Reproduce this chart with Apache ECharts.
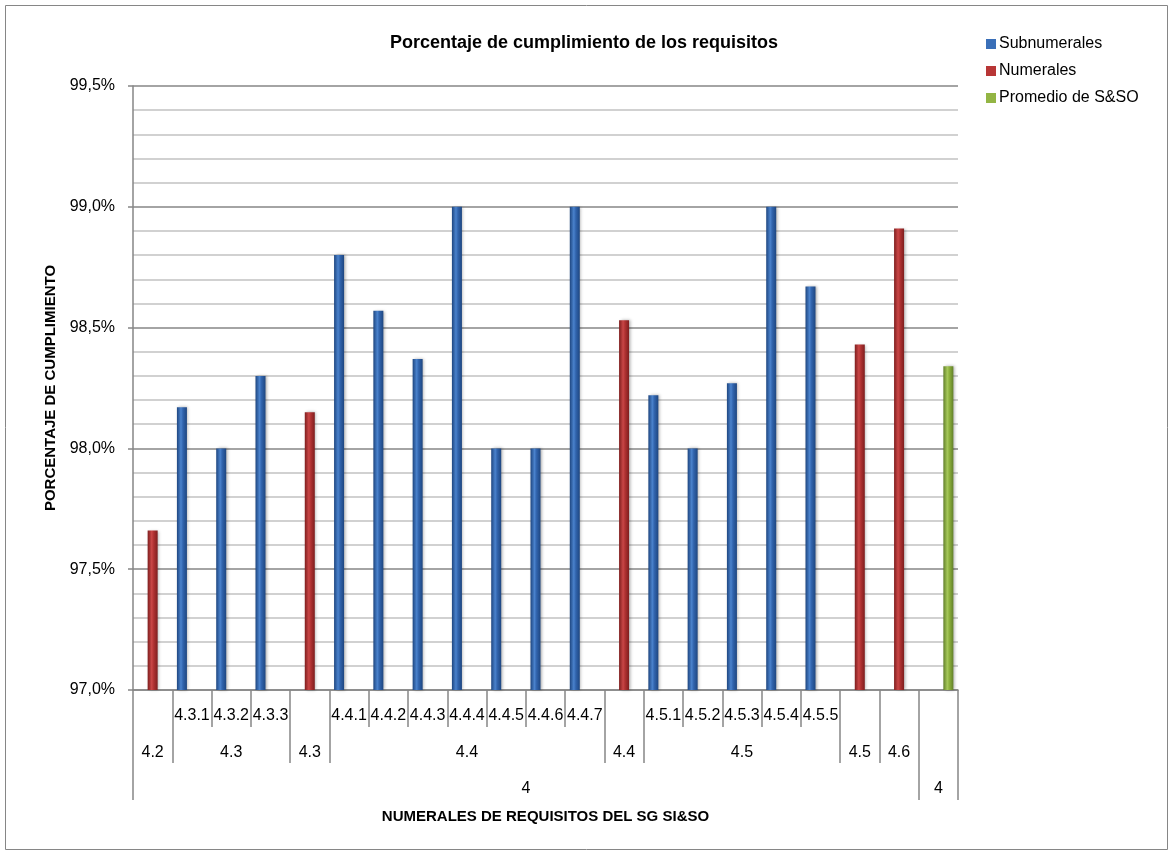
<!DOCTYPE html>
<html>
<head>
<meta charset="utf-8">
<script src="https://cdn.jsdelivr.net/npm/echarts@6/dist/echarts.min.js"></script>
<style>
  html, body { margin: 0; padding: 0; background: #fff; }
  #chart { width: 1174px; height: 855px; }
</style>
</head>
<body>
<div id="chart"></div>
<script>
// Requirement numbers, one entry per column
const categories = ['4.2', '4.3.1', '4.3.2', '4.3.3', '4.3', '4.4.1', '4.4.2', '4.4.3', '4.4.4', '4.4.5', '4.4.6', '4.4.7', '4.4', '4.5.1', '4.5.2', '4.5.3', '4.5.4', '4.5.5', '4.5', '4.6', '4'];

// Multi-level axis labels
const subLabels = ['', '4.3.1', '4.3.2', '4.3.3', '', '4.4.1', '4.4.2', '4.4.3', '4.4.4', '4.4.5', '4.4.6', '4.4.7', '', '4.5.1', '4.5.2', '4.5.3', '4.5.4', '4.5.5', '', '', ''];
const groupNames = ['4.2', '4.3', '4.3', '4.4', '4.4', '4.5', '4.5', '4.6', ''];
const groupSpans = [1, 3, 1, 7, 1, 5, 1, 1, 1];
const topNames = ['4', '4'];
const topSpans = [20, 1];

// Compliance percentages
const subnumerales = [null, 98.17, 98.00, 98.30, null, 98.80, 98.57, 98.37, 99.00, 98.00, 98.00, 99.00, null, 98.22, 98.00, 98.27, 99.00, 98.67, null, null, null];
const numerales = [97.66, null, null, null, 98.15, null, null, null, null, null, null, null, 98.53, null, null, null, null, null, 98.43, 98.91, null];
const promedio = [null, null, null, null, null, null, null, null, null, null, null, null, null, null, null, null, null, null, null, null, 98.34];

const seriesNames = ['Subnumerales', 'Numerales', 'Promedio de S&SO'];

// Y axis ticks
const yMin = 97.0, yMax = 99.5, yStep = 0.5;

const FONT = 'Liberation Sans';
const GRID_COLOR = '#868686';

// Half-column slots: slot 2*i is the left edge of column i, slot 2*i+1 its centre.
const slotCount = categories.length * 2 + 1;
function buildRow(names, spans) {
  const labels = new Array(slotCount).fill('');
  const edges = new Set();
  let start = 0;
  names.forEach((n, k) => {
    const end = start + spans[k];
    labels[start + end] = n;
    edges.add(2 * start);
    edges.add(2 * end);
    start = end;
  });
  return { labels, edges };
}
const row1 = buildRow(subLabels, subLabels.map(() => 1));
const row2 = buildRow(groupNames, groupSpans);
const row3 = buildRow(topNames, topSpans);
const slotIds = Array.from({ length: slotCount }, (_, i) => 's' + i);

function tableAxis(row, tickLen, labelMargin) {
  return {
    type: 'category',
    position: 'bottom',
    boundaryGap: false,
    data: slotIds,
    axisLine: { show: false },
    axisTick: {
      show: true,
      length: tickLen,
      interval: (idx) => row.edges.has(idx),
      lineStyle: { color: GRID_COLOR, width: 1.5 }
    },
    axisLabel: {
      show: true,
      interval: 0,
      margin: labelMargin,
      verticalAlign: 'middle',
      color: '#000',
      fontFamily: FONT,
      fontSize: 16,
      formatter: (v, idx) => row.labels[idx]
    },
    splitLine: { show: false }
  };
}

function barGradient(edge, mid, light) {
  return new echarts.graphic.LinearGradient(0, 0, 1, 0, [
    { offset: 0, color: edge },
    { offset: 0.4, color: light },
    { offset: 0.6, color: mid },
    { offset: 1, color: edge }
  ]);
}
const fills = [
  barGradient('#1e4680', '#3164ad', '#4a82cc'),
  barGradient('#7e1e1e', '#b03232', '#c94646'),
  barGradient('#62802a', '#8cb03c', '#a6c85a')
];
const legendColors = ['#3a6fb8', '#b83636', '#93b544'];

function barSeries(name, data, k) {
  return {
    name: name,
    type: 'bar',
    data: data,
    barWidth: 10,
    barGap: '0%',
    itemStyle: {
      color: fills[k],
      shadowColor: 'rgba(0,0,0,0.3)',
      shadowBlur: 3,
      shadowOffsetX: 1.5
    }
  };
}

const chart = echarts.init(document.getElementById('chart'), null, { renderer: 'canvas' });
chart.setOption({
  animation: false,
  backgroundColor: '#fff',
  textStyle: { fontFamily: FONT, color: '#000' },
  title: {
    text: 'Porcentaje de cumplimiento de los requisitos',
    left: 579,
    top: 29,
    textAlign: 'center',
    textStyle: { fontFamily: FONT, fontSize: 18, fontWeight: 'bold', color: '#000' }
  },
  legend: {
    orient: 'vertical',
    left: 986,
    top: 36,
    padding: 0,
    itemWidth: 10,
    itemHeight: 10,
    itemGap: 11,
    icon: 'rect',
    data: seriesNames.map((n, k) => ({ name: n, itemStyle: { color: legendColors[k], shadowBlur: 0 } })),
    textStyle: { fontFamily: FONT, fontSize: 16, color: '#000', lineHeight: 16, padding: [0, 0, 0, -2] }
  },
  graphic: [{
    type: 'rect',
    shape: { x: 5.5, y: 5.5, width: 1162, height: 844 },
    style: { fill: null, stroke: GRID_COLOR, lineWidth: 1 },
    silent: true,
    z: -1
  }],
  grid: { left: 133, right: 216, top: 86, bottom: 165 },
  xAxis: [
    {
      type: 'category',
      data: categories,
      position: 'bottom',
      axisLine: { show: true, lineStyle: { color: GRID_COLOR, width: 1.5 } },
      axisTick: { show: false },
      axisLabel: { show: false },
      name: 'NUMERALES DE REQUISITOS DEL SG SI&SO',
      nameLocation: 'middle',
      nameGap: 119,
      nameTextStyle: { fontFamily: FONT, fontSize: 15, fontWeight: 'bold', color: '#000' }
    },
    tableAxis(row1, 37, 26),
    tableAxis(row2, 73, 63),
    tableAxis(row3, 110, 99)
  ],
  yAxis: {
    type: 'value',
    min: yMin,
    max: yMax,
    interval: yStep,
    axisLine: { show: true, lineStyle: { color: GRID_COLOR, width: 1.5 } },
    axisTick: { show: true, length: 5, lineStyle: { color: GRID_COLOR, width: 1.5 } },
    minorTick: { show: false, splitNumber: 5 },
    axisLabel: {
      margin: 18,
      color: '#000',
      fontFamily: FONT,
      fontSize: 16,
      formatter: (v) => v.toFixed(1).replace('.', ',') + '%'
    },
    splitLine: { show: true, lineStyle: { color: GRID_COLOR, width: 1.5 } },
    minorSplitLine: { show: true, lineStyle: { color: '#c2c2c2', width: 1.5 } },
    name: 'PORCENTAJE DE CUMPLIMIENTO',
    nameLocation: 'middle',
    nameGap: 75,
    nameRotate: 90,
    nameTextStyle: { fontFamily: FONT, fontSize: 15, fontWeight: 'bold', color: '#000' }
  },
  series: [
    barSeries(seriesNames[0], subnumerales, 0),
    barSeries(seriesNames[1], numerales, 1),
    barSeries(seriesNames[2], promedio, 2)
  ]
});
</script>
</body>
</html>
